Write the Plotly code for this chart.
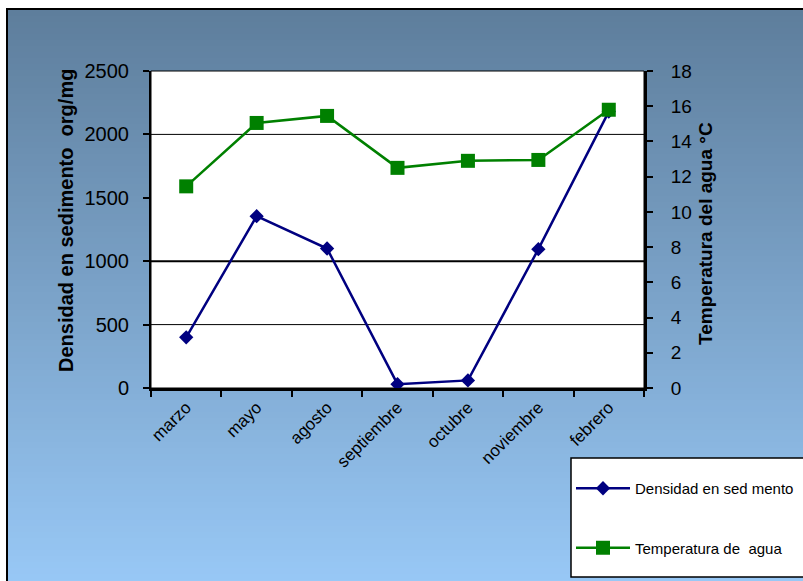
import plotly.graph_objects as go

meses = ["marzo", "mayo", "agosto", "septiembre", "octubre", "noviembre", "febrero"]
densidad = [400, 1355, 1100, 30, 60, 1095, 2180]
temperatura = [11.45, 15.05, 15.45, 12.5, 12.9, 12.95, 15.8]
left_ticks = [0, 500, 1000, 1500, 2000, 2500]
right_ticks = [0, 2, 4, 6, 8, 10, 12, 14, 16, 18]

W, H = 803, 581
L, R, T, B = 151, 644, 71, 388  # plot area in pixels

def px(x):
    return (x - L) / (R - L)

def py(y):
    return (B - y) / (B - T)

FONT = "Liberation Sans, Arial, sans-serif"

shapes = []
# gradient background
top_c = (94, 126, 156)
bot_c = (152, 200, 246)
y0 = 10
step = 6
n = (H - y0) // step + 1
for i in range(n):
    ya = y0 + i * step
    yb = min(ya + step + 1, H + 2)
    t = i / max(n - 1, 1)
    c = tuple(int(round(top_c[k] + (bot_c[k] - top_c[k]) * t)) for k in range(3))
    shapes.append(dict(type="rect", xref="paper", yref="paper", layer="below",
                       x0=px(8), x1=px(W + 2), y0=py(ya), y1=py(yb),
                       fillcolor="rgb(%d,%d,%d)" % c, line=dict(width=0)))
# outer frame lines
shapes.append(dict(type="line", xref="paper", yref="paper", layer="below",
                   x0=px(6), x1=px(W + 2), y0=py(9), y1=py(9),
                   line=dict(color="black", width=2)))
shapes.append(dict(type="line", xref="paper", yref="paper", layer="below",
                   x0=px(7), x1=px(7), y0=py(8), y1=py(H + 2),
                   line=dict(color="black", width=2)))
# white plot area
shapes.append(dict(type="rect", xref="paper", yref="paper", layer="below",
                   x0=0, x1=1, y0=0, y1=1, fillcolor="white",
                   line=dict(color="black", width=1)))
# gridlines
for gv, gw in [(500, 1), (1000, 2), (2000, 1)]:
    shapes.append(dict(type="line", xref="paper", yref="y", layer="below",
                       x0=0, x1=1, y0=gv, y1=gv, line=dict(color="black", width=gw)))
# legend box
shapes.append(dict(type="rect", xref="paper", yref="paper", layer="above",
                   x0=px(571), x1=px(W + 5), y0=py(458), y1=py(577),
                   fillcolor="white", line=dict(color="black", width=1.5)))

fig = go.Figure()
fig.add_trace(go.Scatter(
    x=meses, y=densidad, name="Densidad en sed mento", legendgroup="a",
    mode="lines+markers", line=dict(color="#000080", width=2.5),
    marker=dict(symbol="diamond", size=11, color="#000080"), yaxis="y"))
fig.add_trace(go.Scatter(
    x=meses, y=temperatura, name="Temperatura de  agua", legendgroup="b",
    mode="lines+markers", line=dict(color="#008000", width=2.5),
    marker=dict(symbol="square", size=14, color="#008000"), yaxis="y2"))

annotations = [
    dict(text="Densidad en sedimento  org/mg", xref="paper", yref="paper",
         x=px(66), y=py(221), xanchor="center", yanchor="middle",
         textangle=-90, showarrow=False,
         font=dict(family=FONT, size=20, color="black", weight="bold")),
    dict(text="Temperatura del agua °C", xref="paper", yref="paper",
         x=px(705), y=py(234), xanchor="center", yanchor="middle",
         textangle=-90, showarrow=False,
         font=dict(family=FONT, size=19, color="black", weight="bold")),
]

fig.update_layout(
    width=W, height=H,
    margin=dict(l=L, r=W - R, t=T, b=H - B, autoexpand=False),
    paper_bgcolor="white", plot_bgcolor="rgba(0,0,0,0)",
    shapes=shapes, annotations=annotations,
    showlegend=True,
    legend=dict(x=px(571), y=py(472), xanchor="left", yanchor="top",
                bgcolor="rgba(0,0,0,0)", borderwidth=0,
                font=dict(family=FONT, size=15, color="black"),
                tracegroupgap=37, itemwidth=54),
    xaxis=dict(type="category", range=[-0.5, 6.5], tickson="boundaries",
               ticks="outside", ticklen=6, tickwidth=2, tickcolor="black",
               showline=True, linecolor="black", linewidth=3,
               showgrid=False, zeroline=False, tickangle=-45,
               tickfont=dict(family=FONT, size=17, color="black")),
    yaxis=dict(range=[0, 2500], tickvals=left_ticks, ticks="outside", ticklen=6,
               tickwidth=2, tickcolor="black", showline=True, linecolor="black",
               linewidth=2, showgrid=False, zeroline=False, ticklabelstandoff=10,
               tickfont=dict(family=FONT, size=20, color="black")),
    yaxis2=dict(range=[0, 18], tickvals=right_ticks, overlaying="y", side="right",
                ticks="outside", ticklen=6, tickwidth=2, tickcolor="black",
                showline=True, linecolor="black", linewidth=3, showgrid=False,
                zeroline=False, ticklabelstandoff=14,
                tickfont=dict(family=FONT, size=19, color="black")),
)

fig.write_html("out.html")
